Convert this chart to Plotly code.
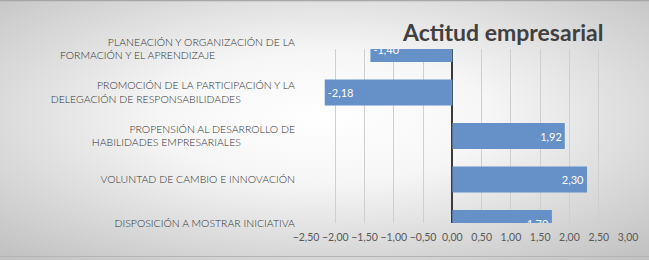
import base64
import plotly.graph_objects as go

# ---- data ----
categories = [
    "DISPOSICIÓN A MOSTRAR INICIATIVA",
    "VOLUNTAD DE CAMBIO E INNOVACIÓN",
    "PROPENSIÓN AL DESARROLLO DE|HABILIDADES EMPRESARIALES",
    "PROMOCIÓN DE LA PARTICIPACIÓN Y LA|DELEGACIÓN DE RESPONSABILIDADES",
    "PLANEACIÓN Y ORGANIZACIÓN DE LA|FORMACIÓN Y EL APRENDIZAJE",
]
values = [1.70, 2.30, 1.92, -2.18, -1.40]
x_ticks = [-2.5, -2.0, -1.5, -1.0, -0.5, 0.0, 0.5, 1.0, 1.5, 2.0, 2.5, 3.0]
title_text = "Actitud empresarial"

# ---- style ----
W, H = 649, 260
ML, MR, MT, MB = 306, 21, 49, 37
second_line_pad = [0, 0, 19, 19, 28]  # nbsp padding (style only)

def label(txt, pad):
    parts = txt.split("|")
    if len(parts) == 1:
        return parts[0]
    return parts[0] + "<br>" + parts[1] + "\u00a0" * pad

ticktext = [label(c, p) for c, p in zip(categories, second_line_pad)]
yidx = list(range(len(categories)))

svg = f'''<svg xmlns="http://www.w3.org/2000/svg" width="{W}" height="{H}" viewBox="0 0 {W} {H}" preserveAspectRatio="none">
<defs><radialGradient id="g" cx="0.5" cy="0.45" r="0.72">
<stop offset="0" stop-color="#ffffff"/><stop offset="0.35" stop-color="#f6f6f6"/><stop offset="1" stop-color="#c2c2c2"/>
</radialGradient></defs>
<rect x="0" y="0" width="{W}" height="{H}" fill="url(#g)"/>
<line x1="0" y1="0.5" x2="{W}" y2="0.5" stroke="#a6a6a6" stroke-width="1.5"/>
<line x1="0" y1="256.5" x2="{W}" y2="256.5" stroke="#b4b4b4" stroke-width="1"/>
</svg>'''
src = "data:image/svg+xml;base64," + base64.b64encode(svg.encode()).decode()

PW, PH = W - ML - MR, H - MT - MB

fig = go.Figure(go.Bar(
    x=values, y=yidx, orientation="h", width=0.6,
    marker=dict(color="#6590c8", line=dict(width=0)),
    texttemplate="%{x:.2f}", textposition="inside", insidetextanchor="end",
    textfont=dict(family="Lato", size=11, color="white"),
    cliponaxis=True, hoverinfo="skip",
))

fig.update_layout(
    width=W, height=H, margin=dict(l=ML, r=MR, t=MT, b=MB, autoexpand=False),
    paper_bgcolor="#d0d0d0", plot_bgcolor="rgba(0,0,0,0)",
    separators=",.", showlegend=False,
    font=dict(family="Lato", color="#404040"),
    images=[dict(source=src, xref="paper", yref="paper",
                 x=-ML / PW, y=1 + MT / PH, sizex=W / PW, sizey=H / PH,
                 xanchor="left", yanchor="top", sizing="stretch", layer="below")],
    annotations=[dict(text=f"<b>{title_text}</b>", xref="paper", yref="paper",
                      x=(502 - ML) / PW, y=1 + (MT - 32) / PH, xanchor="center", yanchor="middle",
                      showarrow=False, font=dict(family="Lato", size=23, color="#404040"))],
)
fig.update_xaxes(range=[-2.5, 3.0], tickvals=x_ticks, tickformat=".2f", tickangle=0,
                 automargin=False,
                 showgrid=True, gridcolor="#cfcfcf", gridwidth=1,
                 zeroline=True, zerolinecolor="#3a3a3a", zerolinewidth=1.5,
                 showline=False, ticks="", ticklabelstandoff=6,
                 tickfont=dict(family="Lato", size=10.5, color="#595959"))
fig.update_yaxes(range=[0, 4], tickvals=yidx, ticktext=ticktext, automargin=False,
                 showgrid=False, zeroline=False, showline=False, ticks="",
                 ticklabelstandoff=10,
                 tickfont=dict(family="Lato", size=10.5, color="#333333", weight=300))

fig.write_html("out.html", config={"displayModeBar": False},
               post_script="document.body.style.margin='0';")
